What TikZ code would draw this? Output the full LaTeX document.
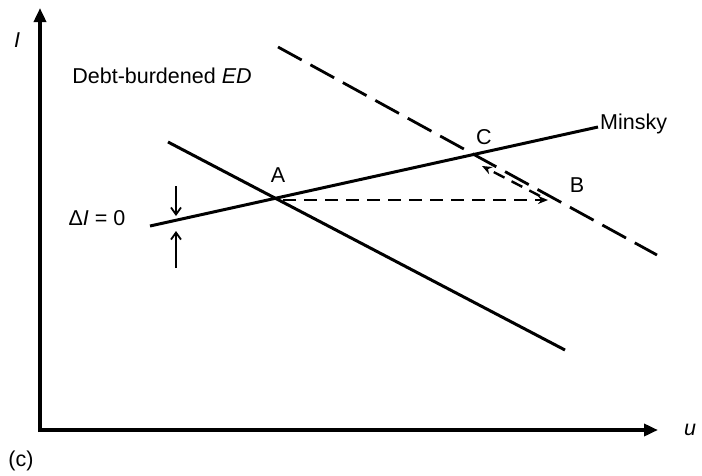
\documentclass[tikz,border=0pt]{standalone}
\usepackage{fontspec}
\setmainfont{Liberation Sans}
\usetikzlibrary{positioning,arrows.meta,calc}
\tikzset{
  axis/.style={line width=4.5pt, -{Triangle[length=14pt,width=12pt]}},
  curve/.style={line width=3pt},
  longdash/.style={line width=2.8pt, dash pattern=on 27pt off 10pt},
  shortdash/.style={line width=2.6pt, dash pattern=on 13pt off 8pt},
  flow/.style={-{Stealth[length=10pt,width=8pt]}},
  gap/.style={line width=1.8pt, -{Straight Barb[length=7pt,width=10pt]}},
  lbl/.style={font=\fontsize{21.5}{24}\selectfont, inner sep=1pt},
}

\begin{document}
\begin{tikzpicture}[x=1pt, y=-1pt]
        \useasboundingbox (0,0) rectangle (702,475);
        % axes
        \coordinate (o) at (40,430);
        \draw[axis] ([yshift=-2pt]o) -- (40,8);
        \draw[axis] ([xshift=-2pt]o) -- (658,430);
        \node[lbl] (ilab) at (17,40) {\itshape I};
        \node[lbl] (ulab) at (690,430) {\itshape u};
        \node[lbl] (clab) at (21,461) {(c)};
        % curves
        \coordinate (ed1) at (168,142);
        \coordinate (ed2) at (565,350);
        \coordinate (edn1) at (278,47);
        \coordinate (edn2) at (657,255);
        \coordinate (m1) at (150,226);
        \coordinate (m2) at (598,127);
        \draw[curve] (ed1) -- (ed2);
        \draw[longdash] (edn1) -- (edn2);
        \draw[curve] (m1) -- (m2);
        % points
        \coordinate (a) at (283,200);
        \coordinate (b) at (548,200);
        \coordinate (bb) at (540,196);
        \coordinate (c) at (482,166);
        \draw[shortdash, flow] (a) -- (b);
        \draw[line width=2.4pt, dash pattern=on 12pt off 8pt, flow] (bb) -- (c);
        \node[lbl] (alab) at (278,175) {A};
        \node[lbl] (blab) at (577,185) {B};
        \node[lbl] (clab2) at (484,137) {C};
        \node[lbl, anchor=west] (minsky) at (599,124) {Minsky};
        \node[lbl] (debt) at (162,76) {Debt-burdened \itshape ED};
        % shift marker
        \node[lbl] (dlab) at (97,218) {Δ\itshape I\upshape\ = 0};
        \coordinate (dtop) at (176,216);
        \coordinate (dbot) at (176,231);
        \draw[gap] (176,186) -- (dtop);
        \draw[gap] (176,268) -- (dbot);
      \end{tikzpicture}
\end{document}
